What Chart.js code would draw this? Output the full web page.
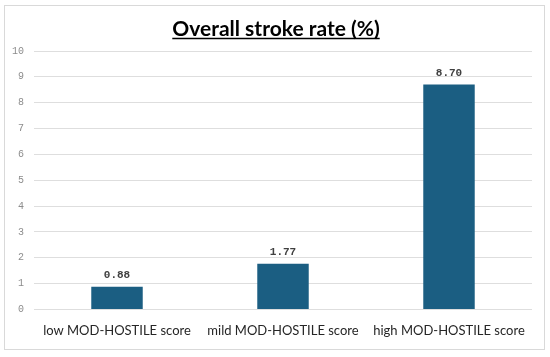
<!DOCTYPE html>
<html>
<head>
<meta charset="utf-8">
<script src="https://cdn.jsdelivr.net/npm/chart.js@4/dist/chart.umd.min.js"></script>
<style>
    body { margin: 0; background: #fff; }
    #frame { position: absolute; left: 4px; top: 5px; width: 539px; height: 343px; border: 1px solid #d9d9d9; }
    #wrap { position: absolute; left: 0; top: 0; width: 550px; height: 357px; }
</style>
</head>
<body>
<div id="frame"></div>
<div id="wrap"><canvas id="chart" width="550" height="357"></canvas></div>
<script>
// data
const chartTitle = 'Overall stroke rate (%)';
const categories = ["low MOD-HOSTILE score", "mild MOD-HOSTILE score", "high MOD-HOSTILE score"];
const strokeRates = [0.88, 1.77, 8.70];
const yTicks = [0, 1, 2, 3, 4, 5, 6, 7, 8, 9, 10];

// values above the bars
const valueLabels = {
    id: 'valueLabels',
    afterDatasetsDraw(chart) {
        const ctx = chart.ctx;
        const meta = chart.getDatasetMeta(0);
        ctx.save();
        ctx.font = 'bold 11px "Liberation Mono"';
        ctx.fillStyle = '#404040';
        ctx.textAlign = 'center';
        ctx.textBaseline = 'bottom';
        meta.data.forEach((bar, i) => {
            ctx.fillText(strokeRates[i].toFixed(2), bar.x, bar.y - 6);
        });
        ctx.restore();
    }
};

// underlined title, centred on the frame
const underlinedTitle = {
    id: 'underlinedTitle',
    afterDraw(chart) {
        const ctx = chart.ctx;
        ctx.save();
        ctx.font = 'bold 21px Lato';
        ctx.fillStyle = '#000';
        ctx.textAlign = 'center';
        ctx.textBaseline = 'alphabetic';
        const cx = 276;
        ctx.fillText(chartTitle, cx, 36);
        const w = ctx.measureText(chartTitle).width;
        ctx.strokeStyle = '#000';
        ctx.lineWidth = 1.5;
        ctx.beginPath();
        ctx.moveTo(cx - w / 2, 38.5);
        ctx.lineTo(cx + w / 2, 38.5);
        ctx.stroke();
        ctx.restore();
    }
};

new Chart(document.getElementById("chart"), {
    type: 'bar',
    data: {
        labels: categories,
        datasets: [
            {
                label: chartTitle,
                backgroundColor: "#1b5e82",
                data: strokeRates,
                barPercentage: 0.31,
                categoryPercentage: 1
            }
        ]
    },
    options: {
        responsive: false,
        animation: false,
        layout: { padding: { left: 2, right: 18, top: 51, bottom: 4 } },
        plugins: {
            legend: { display: false },
            tooltip: { enabled: false },
            title: { display: false }
        },
        scales: {
            x: {
                grid: { display: false, drawTicks: false },
                border: { display: false },
                ticks: {
                    color: '#262626',
                    font: { family: 'Lato', size: 13 },
                    padding: 14,
                    maxRotation: 0,
                    minRotation: 0,
                    autoSkip: false
                }
            },
            y: {
                min: 0,
                max: 10,
                afterBuildTicks(axis) {
                    axis.ticks = yTicks.map(v => ({ value: v }));
                },
                grid: { color: '#dedede', drawTicks: false, lineWidth: 1 },
                border: { display: false },
                ticks: {
                    color: '#8c8c8c',
                    font: { family: 'Liberation Mono', size: 10 },
                    padding: 10
                }
            }
        }
    },
    plugins: [valueLabels, underlinedTitle]
});
</script>
</body>
</html>
